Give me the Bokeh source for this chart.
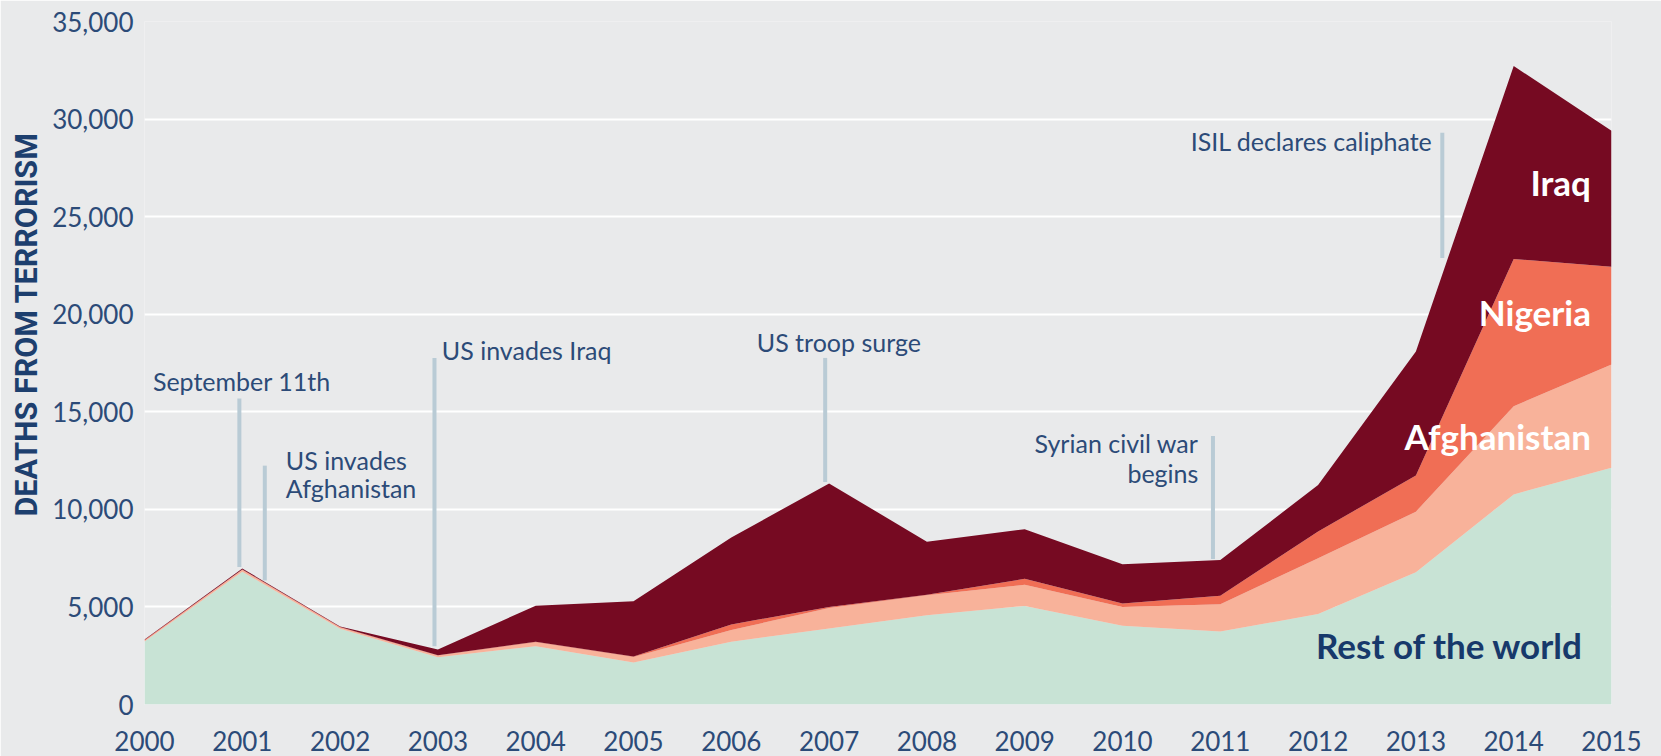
from bokeh.plotting import figure
from bokeh.models import ColumnDataSource, Label, FixedTicker, NumeralTickFormatter, Range1d, Title
from bokeh.embed import file_html
from bokeh.resources import INLINE

# ---- data ----
years = list(range(2000, 2016))
rest_of_world = [3230, 6800, 3880, 2420, 2990, 2150, 3220, 3900, 4577, 5051, 4034, 3735, 4633, 6772, 10765, 12133]
afghanistan = [40, 100, 70, 90, 200, 280, 594, 1050, 1017, 1085, 966, 1400, 2867, 3111, 4522, 5294]
nigeria = [30, 20, 20, 20, 30, 30, 288, 50, 33, 305, 170, 440, 1368, 1853, 7545, 5008]
iraq = [30, 50, 25, 290, 1846, 2830, 4458, 6330, 2713, 2542, 2017, 1825, 2382, 6353, 9888, 6970]

y_ticks = [0, 5000, 10000, 15000, 20000, 25000, 30000, 35000]

event_x = [2000.97, 2001.23, 2002.965, 2006.96, 2010.925, 2013.27]
event_bottom = [7050, 6350, 2990, 11400, 7460, 22880]
event_top = [15680, 12240, 17760, 17760, 13760, 29300]

# annotation texts: (text, x, y, align)
event_texts = [
    ("September 11th", 2000.086, 16570, "left"),
    ("US invades", 2001.445, 12540, "left"),
    ("Afghanistan", 2001.445, 11120, "left"),
    ("US invades Iraq", 2003.04, 18180, "left"),
    ("US troop surge", 2007.10, 18560, "center"),
    ("Syrian civil war", 2010.776, 13400, "right"),
    ("begins", 2010.776, 11880, "right"),
    ("ISIL declares caliphate", 2013.17, 28870, "right"),
]

series_labels = [
    ("Iraq", 2014.79, 26760, "white"),
    ("Nigeria", 2014.79, 20100, "white"),
    ("Afghanistan", 2014.79, 13760, "white"),
    ("Rest of the world", 2014.71, 3030, "#17396b"),
]

BG = "#e9eaeb"
COLORS = ["#c8e3d5", "#f8b29a", "#f06e55", "#760a22"]
TEXT = "#2c4b78"
LINE = "#b9cbd5"

src = ColumnDataSource(dict(year=years, rest=rest_of_world, afghanistan=afghanistan,
                            nigeria=nigeria, iraq=iraq))

p = figure(width=1661, height=756, x_range=Range1d(2000, 2015), y_range=Range1d(0, 35000),
           output_backend="svg", toolbar_location=None,
           min_border_left=139, min_border_right=50, min_border_top=21, min_border_bottom=52,
           background_fill_color=BG, border_fill_color=BG, outline_line_color=None)

p.varea_stack(stackers=["rest", "afghanistan", "nigeria", "iraq"], x="year",
              color=COLORS, source=src)

p.segment(x0=event_x, y0=event_bottom, x1=event_x, y1=event_top,
          line_width=4, line_color=LINE)

p.xgrid.visible = False
p.ygrid.grid_line_color = "white"
p.ygrid.grid_line_width = 2
p.ygrid.ticker = FixedTicker(ticks=y_ticks)

for ax in (p.xaxis[0], p.yaxis[0]):
    ax.axis_line_color = None
    ax.major_tick_line_color = None
    ax.minor_tick_line_color = None
    ax.major_label_text_font = "Lato"
    ax.major_label_text_font_size = "26px"
    ax.major_label_text_color = TEXT

xa = p.xaxis[0]
xa.ticker = FixedTicker(ticks=years)
xa.major_label_standoff = 20

ya = p.yaxis[0]
ya.ticker = FixedTicker(ticks=y_ticks)
ya.formatter = NumeralTickFormatter(format="0,0")
ya.major_label_standoff = 5

# y axis title placed in its own left panel, starting 188px above the frame bottom
p.add_layout(Title(text="DEATHS FROM TERRORISM", align="left", offset=188, standoff=12,
                   text_font="Roboto", text_font_style="bold", text_font_size="30.5px",
                   text_color="#1d3f6e"), "left")

for t, x, y, al in event_texts:
    p.add_layout(Label(x=x, y=y, text=t, text_align=al, text_baseline="middle",
                       text_font="Lato", text_font_size="25px", text_color=TEXT))

for t, x, y, c in series_labels:
    p.add_layout(Label(x=x, y=y, text=t, text_align="right", text_baseline="middle",
                       text_font="Lato", text_font_style="bold", text_font_size="35px",
                       text_color=c))

open("out.html", "w").write(file_html(p, INLINE))
